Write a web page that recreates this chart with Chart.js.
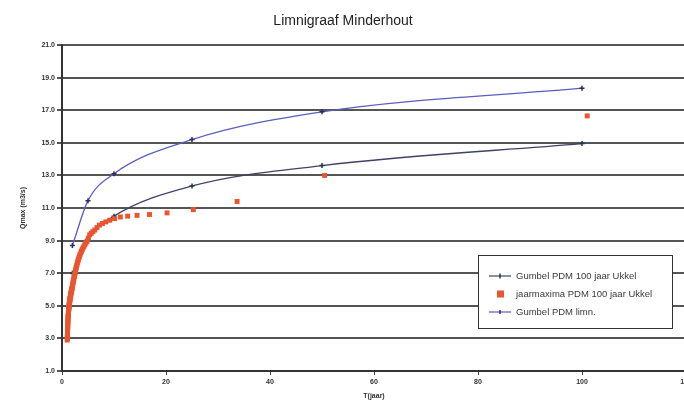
<!DOCTYPE html>
<html>
<head>
<meta charset="utf-8">
<script src="https://cdn.jsdelivr.net/npm/chart.js@4/dist/chart.umd.min.js"></script>
<style>
  html, body { margin: 0; padding: 0; background: #fff; overflow: hidden; }
</style>
</head>
<body>
<canvas id="chart" width="700" height="401"></canvas>
<script>
// Return periods T (jaar) and discharges Qmax (m3/s)
const gumbelUkkelT = [2, 5, 10, 25, 50, 100];
const gumbelUkkelQ = [7.0, 9.1, 10.5, 12.35, 13.6, 14.95];

const gumbelLimnT = [2, 5, 10, 25, 50, 100];
const gumbelLimnQ = [8.7, 11.45, 13.1, 15.2, 16.9, 18.35];

const maximaT = [101, 50.5, 33.67, 25.25, 20.2, 16.83, 14.43, 12.63, 11.22, 10.1,
  9.18, 8.42, 7.77, 7.21, 6.73, 6.31, 5.94, 5.61, 5.32, 5.05,
  4.81, 4.59, 4.39, 4.21, 4.04, 3.88, 3.74, 3.61, 3.48, 3.37,
  3.26, 3.16, 3.06, 2.97, 2.89, 2.81, 2.73, 2.66, 2.59, 2.53,
  2.46, 2.40, 2.35, 2.30, 2.24, 2.20, 2.15, 2.10, 2.06, 2.02,
  1.98, 1.94, 1.91, 1.87, 1.84, 1.80, 1.77, 1.74, 1.71, 1.68,
  1.66, 1.63, 1.60, 1.58, 1.55, 1.53, 1.51, 1.49, 1.46, 1.44,
  1.42, 1.40, 1.38, 1.36, 1.35, 1.33, 1.31, 1.29, 1.28, 1.26,
  1.25, 1.23, 1.22, 1.20, 1.19, 1.17, 1.16, 1.15, 1.13, 1.12,
  1.11, 1.10, 1.09, 1.07, 1.06, 1.05, 1.04, 1.03, 1.02, 1.01];
const maximaQ = [16.65, 13.0, 11.4, 10.9, 10.7, 10.6, 10.55, 10.5, 10.45, 10.35,
  10.25, 10.15, 10.05, 9.95, 9.8, 9.65, 9.55, 9.45, 9.35, 9.15,
  8.95, 8.85, 8.75, 8.65, 8.55, 8.45, 8.35, 8.25, 8.15, 8.05,
  7.95, 7.85, 7.75, 7.65, 7.55, 7.45, 7.35, 7.25, 7.15, 7.05,
  6.95, 6.85, 6.8, 6.7, 6.6, 6.55, 6.45, 6.4, 6.3, 6.25,
  6.15, 6.1, 6.05, 6.0, 5.95, 5.9, 5.85, 5.8, 5.75, 5.7,
  5.65, 5.6, 5.55, 5.5, 5.45, 5.4, 5.35, 5.3, 5.25, 5.2,
  5.15, 5.1, 5.05, 5.0, 4.95, 4.9, 4.85, 4.8, 4.75, 4.7,
  4.65, 4.6, 4.5, 4.45, 4.4, 4.3, 4.2, 4.1, 4.0, 3.9,
  3.8, 3.7, 3.6, 3.5, 3.4, 3.3, 3.2, 3.1, 3.0, 2.9];

const seriesLabels = ['Gumbel PDM 100 jaar Ukkel', 'jaarmaxima PDM 100 jaar Ukkel', 'Gumbel PDM limn.'];

const toXY = (xs, ys) => xs.map((x, i) => ({ x, y: ys[i] }));

const COL_UKKEL = '#3d4268';
const COL_UKKEL_PT = '#1d3c4a';
const COL_LIMN = '#5d5cc0';
const COL_LIMN_PT = '#2b2b62';
const COL_RED = '#e9552f';
const GRID = '#555555';

// legend box drawn inside the plot, like the original figure
const boxLegend = {
  id: 'boxLegend',
  afterDraw(chart) {
    const ctx = chart.ctx;
    const x0 = 478, y0 = 255, w = 194, h = 73;
    ctx.save();
    ctx.fillStyle = '#fff';
    ctx.fillRect(x0, y0, w, h);
    ctx.strokeStyle = '#333';
    ctx.lineWidth = 1;
    ctx.strokeRect(x0 + 0.5, y0 + 0.5, w, h);
    ctx.font = '9.5px "Liberation Sans", Arial, sans-serif';
    ctx.textBaseline = 'middle';
    ctx.fillStyle = '#3a3a3a';
    const rows = [276, 294, 312];
    // row 1
    ctx.strokeStyle = COL_UKKEL; ctx.lineWidth = 1.2;
    ctx.beginPath(); ctx.moveTo(489, rows[0]); ctx.lineTo(511, rows[0]); ctx.stroke();
    ctx.strokeStyle = COL_UKKEL_PT; ctx.lineWidth = 1.5;
    ctx.beginPath(); ctx.moveTo(500, rows[0] - 2.5); ctx.lineTo(500, rows[0] + 2.5); ctx.stroke();
    // row 2
    ctx.fillStyle = COL_RED;
    ctx.fillRect(497, rows[1] - 3.5, 7, 7);
    // row 3
    ctx.strokeStyle = COL_LIMN; ctx.lineWidth = 1.2;
    ctx.beginPath(); ctx.moveTo(489, rows[2]); ctx.lineTo(511, rows[2]); ctx.stroke();
    ctx.strokeStyle = COL_LIMN_PT; ctx.lineWidth = 1.5;
    ctx.beginPath(); ctx.moveTo(500, rows[2] - 2); ctx.lineTo(500, rows[2] + 2); ctx.stroke();
    ctx.fillStyle = '#3a3a3a';
    seriesLabels.forEach((t, i) => ctx.fillText(t, 516, rows[i]));
    ctx.restore();
  }
};

new Chart(document.getElementById('chart'), {
  type: 'scatter',
  data: {
    datasets: [
      {
        label: seriesLabels[1],
        data: toXY(maximaT, maximaQ),
        pointStyle: 'rect',
        pointRadius: 3.5,
        backgroundColor: COL_RED,
        borderColor: COL_RED,
        borderWidth: 0,
        showLine: false,
        order: 0
      },
      {
        label: seriesLabels[0],
        data: toXY(gumbelUkkelT, gumbelUkkelQ),
        showLine: true,
        borderColor: COL_UKKEL,
        borderWidth: 1.3,
        cubicInterpolationMode: 'monotone',
        pointStyle: 'cross',
        pointRadius: 2.5,
        pointBorderColor: COL_UKKEL_PT,
        pointBorderWidth: 1.5,
        order: 1
      },
      {
        label: seriesLabels[2],
        data: toXY(gumbelLimnT, gumbelLimnQ),
        showLine: true,
        borderColor: COL_LIMN,
        borderWidth: 1.3,
        cubicInterpolationMode: 'monotone',
        pointStyle: 'cross',
        pointRadius: 2.5,
        pointBorderColor: COL_LIMN_PT,
        pointBorderWidth: 1.5,
        order: 2
      }
    ]
  },
  options: {
    responsive: false,
    animation: false,
    layout: { padding: { left: 0, right: 14, top: 0, bottom: 0 } },
    plugins: {
      legend: { display: false },
      tooltip: { enabled: false },
      title: {
        display: true,
        text: 'Limnigraaf Minderhout',
        color: '#222',
        font: { family: '"Liberation Sans", Arial, sans-serif', size: 14, weight: 'normal' },
        padding: { top: 12.6, bottom: 15.6 }
      }
    },
    scales: {
      x: {
        type: 'linear',
        min: 0, max: 120,
        ticks: { stepSize: 20, color: '#333', padding: 3,
          font: { family: '"Liberation Sans", Arial, sans-serif', size: 7, weight: 'bold' } },
        grid: { drawOnChartArea: false, color: '#444', tickLength: 4 },
        border: { color: '#333', width: 2 },
        title: { display: true, text: 'T(jaar)', color: '#333', padding: { top: 0, bottom: 1 },
          font: { family: '"Liberation Sans", Arial, sans-serif', size: 7, weight: 'bold' } },
        afterFit(s) { s.height = 30; s.paddingLeft = 0; s.paddingRight = 0; }
      },
      y: {
        min: 1, max: 21,
        ticks: { stepSize: 2, color: '#333', padding: 2,
          callback: v => v.toFixed(1),
          font: { family: '"Liberation Sans", Arial, sans-serif', size: 7, weight: 'bold' } },
        grid: { color: GRID, lineWidth: 2, tickLength: 5 },
        border: { color: '#333', width: 2 },
        title: { display: true, text: 'Qmax (m3/s)', color: '#333', padding: { top: 19, bottom: 0 },
          font: { family: '"Liberation Sans", Arial, sans-serif', size: 7, weight: 'bold' } },
        afterFit(s) { s.width = 62; s.paddingTop = 0; s.paddingBottom = 0; }
      }
    }
  },
  plugins: [boxLegend]
});
</script>
</body>
</html>
